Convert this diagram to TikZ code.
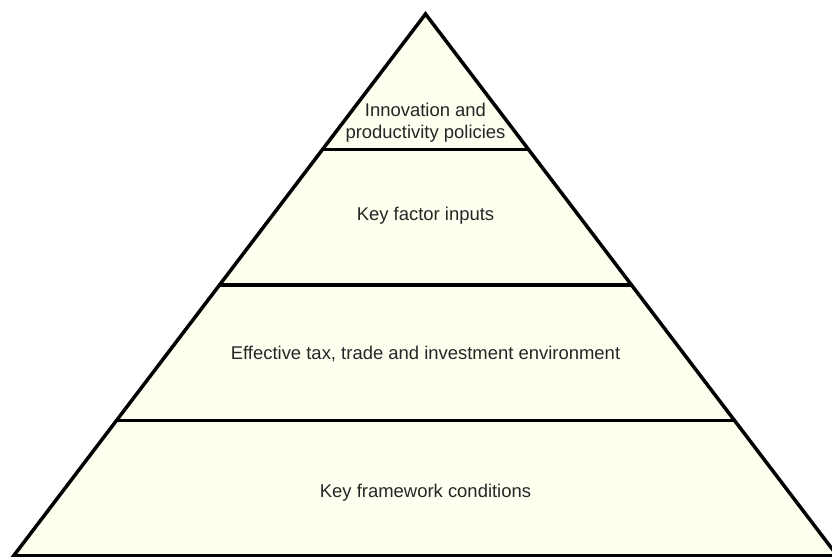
\documentclass[tikz,border=0pt]{standalone}
\usepackage{fontspec}
\setmainfont{Liberation Sans}
\usetikzlibrary{calc}
\definecolor{cream}{RGB}{255,255,240}

\begin{document}
\begin{tikzpicture}[x=0.02cm, y=0.02cm,
                    level line/.style={line width=0.07cm},
                    level label/.style={font=\fontsize{10.5}{12.5}\selectfont, align=center, text=black!85}]
  \useasboundingbox (0,0) rectangle (832,557);
  \clip (0,0) rectangle (832,557);

  \coordinate (top) at (425.5,543);
  \coordinate (bl) at (13.5,1);
  \coordinate (br) at (837.5,1);

  \filldraw[fill=cream, level line, line join=miter] (top) -- (br) -- (bl) -- cycle;

  \foreach \t/\n in {0.25/1, 0.5/2, 0.75/3} {
    \coordinate (l\n) at ($(top)!\t!(bl)$);
    \coordinate (r\n) at ($(top)!\t!(br)$);
  }

  \path[level line]
    (l1) edge (r1)
    (l2) edge (r2)
    (l3) edge (r3);

  \node[level label] (innov) at (425.5,434) {Innovation and\\productivity policies};
  \node[level label] (factor) at (425.5,341) {Key factor inputs};
  \node[level label] (tax) at (425.5,203) {Effective tax, trade and investment environment};
  \node[level label] (frame) at (425.5,64) {Key framework conditions};
\end{tikzpicture}
\end{document}
